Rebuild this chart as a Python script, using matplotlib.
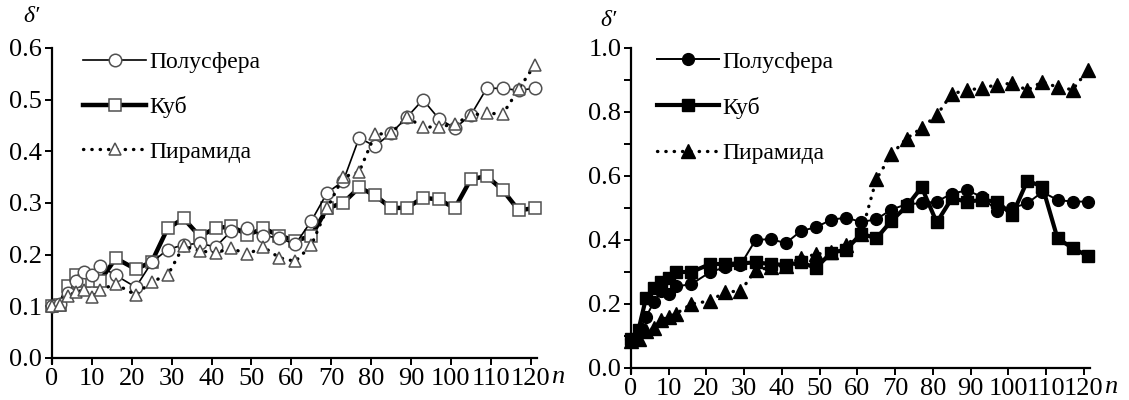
import matplotlib
matplotlib.use("Agg")
import matplotlib.pyplot as plt
from matplotlib.ticker import MultipleLocator

plt.rcParams['font.family'] = ['Liberation Serif', 'DejaVu Serif']

n = [0, 2, 4, 6, 8, 10, 12, 16, 21, 25, 29, 33, 37, 41, 45, 49, 53, 57, 61,
     65, 69, 73, 77, 81, 85, 89, 93, 97, 101, 105, 109, 113, 117, 121]

labels = ["Полусфера", "Куб", "Пирамида"]

# Left chart
left_sphere = [0.10, 0.105, 0.125, 0.15, 0.166, 0.16, 0.178, 0.16, 0.137, 0.185, 0.21,
               0.219, 0.222, 0.215, 0.246, 0.251, 0.237, 0.232, 0.22,
               0.265, 0.32, 0.342, 0.426, 0.41, 0.435, 0.466, 0.50, 0.463, 0.445,
               0.47, 0.522, 0.522, 0.518, 0.522]
left_cube = [0.10, 0.103, 0.14, 0.16, 0.15, 0.149, 0.149, 0.193, 0.172, 0.186, 0.251,
             0.27, 0.236, 0.251, 0.255, 0.238, 0.251, 0.237, 0.227,
             0.236, 0.29, 0.30, 0.33, 0.315, 0.29, 0.291, 0.31, 0.307, 0.29,
             0.346, 0.352, 0.325, 0.286, 0.29]
left_pyr = [0.10, 0.102, 0.12, 0.128, 0.131, 0.119, 0.132, 0.143, 0.122, 0.148, 0.16,
            0.217, 0.207, 0.204, 0.212, 0.201, 0.215, 0.194, 0.187,
            0.218, 0.29, 0.35, 0.36, 0.433, 0.435, 0.466, 0.447, 0.447, 0.453,
            0.47, 0.474, 0.472, 0.52, 0.567]

# Right chart
right_sphere = [0.09, 0.11, 0.16, 0.205, 0.24, 0.23, 0.255, 0.262, 0.30, 0.315, 0.322,
                0.40, 0.403, 0.39, 0.428, 0.44, 0.463, 0.47, 0.456,
                0.465, 0.495, 0.512, 0.515, 0.52, 0.545, 0.555, 0.535, 0.49, 0.50,
                0.515, 0.55, 0.525, 0.52, 0.52]
right_cube = [0.09, 0.12, 0.22, 0.25, 0.27, 0.28, 0.30, 0.30, 0.325, 0.325, 0.327,
              0.33, 0.325, 0.322, 0.33, 0.313, 0.36, 0.37, 0.42,
              0.405, 0.46, 0.505, 0.565, 0.455, 0.53, 0.52, 0.525, 0.52, 0.478,
              0.585, 0.567, 0.405, 0.375, 0.35]
right_pyr = [0.085, 0.09, 0.115, 0.125, 0.15, 0.16, 0.17, 0.20, 0.21, 0.238, 0.24,
             0.305, 0.315, 0.32, 0.345, 0.355, 0.363, 0.385, 0.42,
             0.59, 0.668, 0.717, 0.75, 0.79, 0.857, 0.868, 0.875, 0.885, 0.89,
             0.868, 0.895, 0.877, 0.87, 0.93]

fig = plt.figure(figsize=(11.29, 4.0), dpi=100)

dot_style = (0, (0.1, 2.4))
TFS = 19
LFS = 17


def style_axes(ax, ymax, major, minor, n_x, d_xy):
    ax.set_xlim(0, 121.6)
    ax.set_ylim(0, ymax)
    ax.spines['top'].set_visible(False)
    ax.spines['right'].set_visible(False)
    ax.spines['left'].set_linewidth(1.6)
    ax.spines['bottom'].set_linewidth(1.6)
    ax.spines['left'].set_bounds(-0.015 * ymax, ymax)
    ax.xaxis.set_major_locator(MultipleLocator(10))
    ax.yaxis.set_major_locator(MultipleLocator(major))
    if minor:
        ax.yaxis.set_minor_locator(MultipleLocator(minor))
        ax.tick_params(axis='y', which='minor', length=5, width=1.4, direction='out')
    ax.yaxis.set_major_formatter(matplotlib.ticker.FormatStrFormatter('%.1f'))
    ax.tick_params(axis='both', which='major', length=5, width=1.4, direction='out',
                   labelsize=TFS, pad=2)
    ax.text(n_x, -0.025, 'n', transform=ax.transAxes, fontsize=TFS,
            style='italic', ha='left', va='top')
    ax.text(d_xy[0], d_xy[1], 'δ′', transform=ax.transAxes, fontsize=LFS,
            style='italic', ha='center', va='center')


# ---- left axes
ax1 = fig.add_axes([52 / 1129, 1 - 358 / 400, (537 - 52) / 1129, (358 - 48) / 400])
ax1.plot(n, left_sphere, color='black', lw=1.2, marker='o', ms=9,
         mfc='white', mec='#505050', mew=1.1, label=labels[0], clip_on=False, zorder=3)
ax1.plot(n, left_cube, color='black', lw=3.2, marker='s', ms=9,
         mfc='white', mec='#505050', mew=1.1, label=labels[1], clip_on=False, zorder=2)
ax1.plot(n, left_pyr, color='black', lw=2.4, ls=dot_style, dash_capstyle='round',
         marker='^', ms=9, mfc='white', mec='#505050', mew=1.1, label=labels[2],
         clip_on=False, zorder=4)
style_axes(ax1, 0.6, 0.1, None, 1.028, (-0.042, 1.10))
ax1.set_xticks(range(0, 121, 10))
ax1.legend(loc='upper left', bbox_to_anchor=(0.045, 1.02), frameon=False,
           fontsize=LFS, handlelength=2.65, handletextpad=0.15,
           labelspacing=0.98, borderaxespad=0)

# ---- right axes
ax2 = fig.add_axes([631 / 1129, 1 - 368 / 400, (1090 - 631) / 1129, (368 - 48) / 400])
ax2.plot(n, right_sphere, color='black', lw=1.4, marker='o', ms=8.5,
         mfc='black', mec='black', label=labels[0], clip_on=False, zorder=3)
ax2.plot(n, right_cube, color='black', lw=3.0, marker='s', ms=8,
         mfc='black', mec='black', label=labels[1], clip_on=False, zorder=2)
ax2.plot(n, right_pyr, color='black', lw=2.4, ls=dot_style, dash_capstyle='round',
         marker='^', ms=9.5, mfc='black', mec='black', label=labels[2],
         clip_on=False, zorder=4)
style_axes(ax2, 1.0, 0.2, 0.1, 1.03, (-0.05, 1.085))
ax2.set_xticks(range(0, 121, 10))
ax2.legend(loc='upper left', bbox_to_anchor=(0.035, 1.02), frameon=False,
           fontsize=LFS, handlelength=2.65, handletextpad=0.15,
           labelspacing=1.02, borderaxespad=0)

fig.savefig('out.png', dpi=100)
